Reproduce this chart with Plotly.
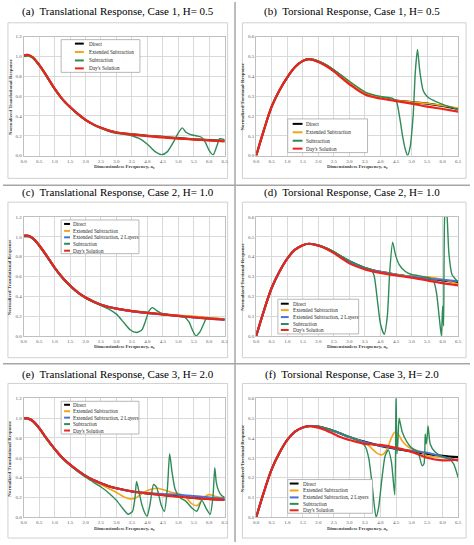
import plotly.graph_objects as go

W, H = 474, 545

# ---------------- data ----------------
FREQ_TICKS = [0.0, 0.5, 1.0, 1.5, 2.0, 2.5, 3.0, 3.5, 4.0, 4.5, 5.0, 5.5, 6.0, 6.5]
TRANS_TICKS = [0.0, 0.2, 0.4, 0.6, 0.8, 1.0, 1.2]
TORS_TICKS = [0.0, 0.1, 0.2, 0.3, 0.4, 0.5, 0.6]

NAMES = ["Direct", "Extended Subtraction", "Extended Subtraction, 2 Layers", "Subtraction", "Day's Solution"]

# translational frequency grid
TX = [0, 0.15, 0.3, 0.5, 0.75, 1.0, 1.25, 1.5, 1.75, 2.0, 2.25, 2.5, 2.75, 3.0, 3.5, 4.0, 4.5, 5.0, 5.5, 6.0, 6.5]
# torsional frequency grid
RX = [0, 0.25, 0.5, 0.75, 1.0, 1.25, 1.5, 1.7, 2.0, 2.25, 2.5, 2.75, 3.0, 3.5, 4.0, 4.5, 5.0, 5.5, 6.0, 6.5]

# (a) Translational, Case 1
a_direct = [1.01, 1.015, 0.99, 0.915, 0.80, 0.675, 0.57, 0.49, 0.42, 0.36, 0.315, 0.28, 0.252, 0.233, 0.215, 0.200, 0.188, 0.176, 0.165, 0.156, 0.148]
a_ext = [1.01, 1.015, 0.99, 0.915, 0.80, 0.675, 0.57, 0.49, 0.42, 0.36, 0.315, 0.28, 0.252, 0.233, 0.215, 0.200, 0.187, 0.175, 0.164, 0.155, 0.150]
a_days = [1.01, 1.015, 0.99, 0.915, 0.80, 0.675, 0.57, 0.49, 0.42, 0.36, 0.315, 0.28, 0.252, 0.233, 0.212, 0.197, 0.183, 0.172, 0.162, 0.152, 0.143]
a_sub_x = [0, 0.15, 0.3, 0.5, 0.75, 1.0, 1.25, 1.5, 1.75, 2.0, 2.25, 2.5, 2.75, 3.0, 3.25, 3.5, 3.75, 4.0, 4.25, 4.47, 4.65, 4.85, 5.0, 5.13, 5.25, 5.4, 5.6, 5.75, 5.88, 6.0, 6.13, 6.25, 6.34, 6.5]
a_sub = [1.0, 1.005, 0.98, 0.905, 0.79, 0.668, 0.565, 0.486, 0.416, 0.357, 0.31, 0.275, 0.245, 0.225, 0.215, 0.2, 0.17, 0.115, 0.04, 0.01, 0.04, 0.14, 0.23, 0.28, 0.235, 0.212, 0.198, 0.185, 0.13, 0.05, 0.008, 0.1, 0.17, 0.16]

# (b) Torsional, Case 1
b_direct = [0, 0.13, 0.248, 0.33, 0.395, 0.447, 0.478, 0.487, 0.475, 0.456, 0.43, 0.40, 0.368, 0.315, 0.293, 0.278, 0.27, 0.262, 0.25, 0.235]
b_ext = [0, 0.13, 0.248, 0.33, 0.395, 0.447, 0.478, 0.487, 0.475, 0.456, 0.43, 0.40, 0.368, 0.315, 0.293, 0.278, 0.27, 0.263, 0.252, 0.24]
b_days = [0, 0.13, 0.248, 0.33, 0.395, 0.447, 0.478, 0.487, 0.472, 0.452, 0.425, 0.392, 0.36, 0.308, 0.288, 0.275, 0.262, 0.247, 0.235, 0.222]
b_sub_x = [0, 0.25, 0.5, 0.75, 1.0, 1.25, 1.5, 1.7, 2.0, 2.25, 2.5, 2.75, 3.0, 3.5, 4.0, 4.4, 4.52, 4.62, 4.72, 4.8, 4.87, 4.95, 5.05, 5.12, 5.19, 5.27, 5.37, 5.5, 5.7, 6.0, 6.5]
b_sub = [0, 0.13, 0.248, 0.33, 0.395, 0.447, 0.478, 0.487, 0.477, 0.458, 0.432, 0.405, 0.375, 0.322, 0.298, 0.288, 0.27, 0.19, 0.09, 0.03, 0.0, 0.04, 0.2, 0.42, 0.535, 0.42, 0.33, 0.298, 0.278, 0.258, 0.232]

# (c) Translational, Case 2
c_direct = [1.01, 1.01, 0.985, 0.915, 0.805, 0.69, 0.59, 0.508, 0.44, 0.387, 0.347, 0.315, 0.292, 0.275, 0.25, 0.232, 0.218, 0.203, 0.19, 0.178, 0.168]
c_ext = [1.01, 1.01, 0.985, 0.915, 0.805, 0.69, 0.59, 0.508, 0.44, 0.387, 0.347, 0.315, 0.292, 0.275, 0.25, 0.232, 0.22, 0.207, 0.197, 0.183, 0.17]
c_ext2 = [1.01, 1.01, 0.985, 0.915, 0.805, 0.69, 0.59, 0.508, 0.44, 0.387, 0.347, 0.315, 0.292, 0.275, 0.25, 0.231, 0.216, 0.2, 0.186, 0.173, 0.162]
c_days = [1.01, 1.01, 0.985, 0.915, 0.805, 0.69, 0.59, 0.508, 0.44, 0.387, 0.347, 0.315, 0.292, 0.275, 0.25, 0.232, 0.217, 0.202, 0.188, 0.175, 0.163]
c_sub_x = [0, 0.15, 0.3, 0.5, 0.75, 1.0, 1.25, 1.5, 1.75, 2.0, 2.25, 2.5, 2.75, 3.0, 3.25, 3.45, 3.65, 3.82, 3.95, 4.05, 4.17, 4.3, 4.45, 4.7, 5.0, 5.2, 5.35, 5.47, 5.57, 5.7, 5.82, 5.92, 6.0, 6.25, 6.5]
c_sub = [1.0, 1.0, 0.975, 0.905, 0.795, 0.68, 0.582, 0.5, 0.433, 0.38, 0.34, 0.305, 0.27, 0.22, 0.13, 0.06, 0.035, 0.06, 0.16, 0.25, 0.285, 0.255, 0.23, 0.215, 0.2, 0.19, 0.14, 0.05, 0.0, 0.04, 0.12, 0.185, 0.178, 0.17, 0.163]

# (d) Torsional, Case 2
d_direct = [0, 0.128, 0.243, 0.325, 0.39, 0.435, 0.458, 0.465, 0.457, 0.442, 0.422, 0.398, 0.375, 0.343, 0.323, 0.31, 0.298, 0.29, 0.28, 0.27]
d_ext = [0, 0.128, 0.243, 0.325, 0.39, 0.435, 0.458, 0.465, 0.457, 0.442, 0.422, 0.398, 0.375, 0.343, 0.323, 0.31, 0.3, 0.298, 0.285, 0.262]
d_ext2 = [0, 0.128, 0.243, 0.325, 0.39, 0.435, 0.458, 0.465, 0.457, 0.442, 0.422, 0.398, 0.375, 0.343, 0.322, 0.308, 0.298, 0.29, 0.283, 0.276]
d_days = [0, 0.128, 0.243, 0.325, 0.39, 0.435, 0.458, 0.465, 0.455, 0.44, 0.418, 0.392, 0.366, 0.336, 0.318, 0.305, 0.294, 0.28, 0.266, 0.255]
d_sub_x = [0, 0.25, 0.5, 0.75, 1.0, 1.25, 1.5, 1.7, 2.0, 2.25, 2.5, 2.75, 3.0, 3.5, 3.7, 3.8, 3.9, 4.0, 4.12, 4.22, 4.3, 4.39, 4.48, 4.6, 4.8, 5.0, 5.5, 5.7, 5.8, 5.9, 5.96, 6.0, 6.03, 6.07, 6.12, 6.2, 6.3, 6.5]
d_sub = [0, 0.128, 0.243, 0.325, 0.39, 0.435, 0.458, 0.465, 0.458, 0.444, 0.425, 0.402, 0.38, 0.345, 0.335, 0.3, 0.18, 0.06, 0.008, 0.1, 0.33, 0.473, 0.41, 0.36, 0.325, 0.31, 0.296, 0.28, 0.22, 0.08, 0.0, 0.15, 0.05, 0.62, 0.66, 0.42, 0.31, 0.272]

# (e) Translational, Case 3
e_direct = [1.0, 0.995, 0.97, 0.9, 0.79, 0.69, 0.6, 0.53, 0.47, 0.417, 0.375, 0.342, 0.313, 0.292, 0.26, 0.24, 0.225, 0.21, 0.196, 0.186, 0.178]
e_ext2 = [1.0, 0.995, 0.97, 0.9, 0.79, 0.69, 0.6, 0.53, 0.47, 0.417, 0.375, 0.342, 0.313, 0.292, 0.26, 0.245, 0.235, 0.228, 0.215, 0.2, 0.188]
e_days = [1.0, 0.995, 0.97, 0.9, 0.79, 0.69, 0.6, 0.53, 0.47, 0.417, 0.375, 0.342, 0.313, 0.292, 0.262, 0.24, 0.222, 0.207, 0.194, 0.183, 0.175]
e_ext_x = [0, 0.15, 0.3, 0.5, 0.75, 1.0, 1.25, 1.5, 1.75, 2.0, 2.25, 2.5, 2.75, 3.0, 3.25, 3.45, 3.65, 3.85, 4.05, 4.3, 4.55, 4.8, 5.05, 5.25, 5.42, 5.6, 5.8, 6.0, 6.2, 6.5]
e_ext = [1.0, 0.995, 0.97, 0.9, 0.79, 0.69, 0.6, 0.53, 0.47, 0.415, 0.37, 0.33, 0.29, 0.25, 0.205, 0.185, 0.2, 0.245, 0.275, 0.293, 0.275, 0.25, 0.235, 0.2, 0.14, 0.117, 0.19, 0.228, 0.21, 0.195]
e_sub_x = [0, 0.15, 0.3, 0.5, 0.75, 1.0, 1.25, 1.5, 1.75, 2.0, 2.25, 2.5, 2.75, 3.0, 3.2, 3.38, 3.52, 3.6, 3.65, 3.72, 3.82, 3.92, 3.99, 4.08, 4.2, 4.3, 4.45, 4.55, 4.65, 4.72, 4.8, 4.9, 5.05, 5.25, 5.45, 5.6, 5.76, 5.9, 6.03, 6.12, 6.18, 6.23, 6.3, 6.4, 6.5]
e_sub = [1.0, 0.99, 0.965, 0.893, 0.782, 0.682, 0.592, 0.522, 0.46, 0.405, 0.355, 0.305, 0.245, 0.17, 0.09, 0.03, 0.06, 0.2, 0.36, 0.27, 0.13, 0.04, 0.01, 0.12, 0.33, 0.3, 0.12, 0.06, 0.3, 0.64, 0.45, 0.28, 0.2, 0.16, 0.09, 0.06, 0.17, 0.09, 0.03, 0.2, 0.5, 0.35, 0.27, 0.22, 0.2]

# (f) Torsional, Case 3
f_direct = [0, 0.128, 0.243, 0.325, 0.39, 0.432, 0.453, 0.46, 0.457, 0.447, 0.435, 0.42, 0.405, 0.38, 0.36, 0.345, 0.332, 0.32, 0.31, 0.303]
f_ext2 = [0, 0.128, 0.243, 0.325, 0.39, 0.432, 0.453, 0.46, 0.457, 0.447, 0.435, 0.42, 0.405, 0.378, 0.36, 0.347, 0.335, 0.325, 0.305, 0.285]
f_days = [0, 0.128, 0.243, 0.325, 0.39, 0.432, 0.453, 0.46, 0.452, 0.438, 0.42, 0.402, 0.39, 0.37, 0.365, 0.35, 0.33, 0.30, 0.287, 0.29]
f_ext_x = [0, 0.25, 0.5, 0.75, 1.0, 1.25, 1.5, 1.7, 2.0, 2.25, 2.5, 2.75, 3.0, 3.5, 3.7, 3.9, 4.05, 4.2, 4.35, 4.47, 4.57, 4.7, 4.85, 5.0, 5.3, 5.5, 6.0, 6.5]
f_ext = [0, 0.128, 0.243, 0.325, 0.39, 0.432, 0.453, 0.46, 0.457, 0.447, 0.435, 0.42, 0.405, 0.375, 0.35, 0.322, 0.315, 0.34, 0.40, 0.43, 0.42, 0.385, 0.36, 0.345, 0.33, 0.31, 0.302, 0.29]
f_sub_x = [0, 0.25, 0.5, 0.75, 1.0, 1.25, 1.5, 1.7, 2.0, 2.25, 2.5, 2.75, 3.0, 3.3, 3.5, 3.62, 3.72, 3.8, 3.86, 3.94, 4.05, 4.15, 4.25, 4.35, 4.46, 4.5, 4.53, 4.56, 4.6, 4.7, 4.85, 5.0, 5.2, 5.34, 5.4, 5.44, 5.47, 5.5, 5.53, 5.6, 5.75, 6.0, 6.2, 6.35, 6.5]
f_sub = [0, 0.128, 0.243, 0.325, 0.39, 0.432, 0.453, 0.46, 0.458, 0.449, 0.437, 0.422, 0.405, 0.385, 0.36, 0.3, 0.18, 0.06, 0.0, 0.05, 0.2, 0.31, 0.34, 0.28, 0.113, 0.63, 0.32, 0.38, 0.5, 0.43, 0.38, 0.35, 0.33, 0.26, 0.27, 0.42, 0.37, 0.4, 0.46, 0.37, 0.33, 0.305, 0.295, 0.27, 0.2]

# ---------------- styling ----------------
COLORS = {"Direct": "#000000", "Extended Subtraction": "#F5A31A",
          "Extended Subtraction, 2 Layers": "#4A72D0", "Subtraction": "#2E8B57",
          "Day's Solution": "#E8241C"}
WIDTHS = {"Direct": 2.2, "Extended Subtraction": 1.6,
          "Extended Subtraction, 2 Layers": 2.0, "Subtraction": 1.4,
          "Day's Solution": 2.2}
SERIF = "Times New Roman"


def xp(px):
    return px / W


def yp(py):
    return 1 - py / H


panels = [
    dict(title="(a)\u00a0 Translational Response, Case 1, H= 0.5", tx=117, ty=10,
         px=(21, 225), py=(35, 155), yr=1.2, yt=TRANS_TICKS, ylab="Normalized Translational Response",
         frame=(5, 21, 228, 178),
         series=[("Direct", TX, a_direct), ("Extended Subtraction", TX, a_ext),
                 ("Subtraction", a_sub_x, a_sub), ("Day's Solution", TX, a_days)],
         leg=dict(box=(59, 38, 139, 71), sx=(73, 82), tx=85, ys=[42, 50.5, 59, 67])),
    dict(title="(b)\u00a0 Torsional Response, Case 1, H= 0.5", tx=354, ty=10,
         px=(257, 462), py=(35, 155), yr=0.6, yt=TORS_TICKS, ylab="Normalized Torsional Response",
         frame=(243, 21, 470, 178),
         series=[("Direct", RX, b_direct), ("Extended Subtraction", RX, b_ext),
                 ("Subtraction", b_sub_x, b_sub), ("Day's Solution", RX, b_days)],
         leg=dict(box=(289, 118, 370, 152), sx=(294, 304), tx=306, ys=[123, 131.5, 140, 148])),
    dict(title="(c)\u00a0 Translational Response, Case 2, H= 1.0", tx=117, ty=192,
         px=(21, 225), py=(217, 337), yr=1.2, yt=TRANS_TICKS, ylab="Normalized Translational Response",
         frame=(5, 202, 228, 359),
         series=[("Direct", TX, c_direct), ("Extended Subtraction", TX, c_ext),
                 ("Extended Subtraction, 2 Layers", TX, c_ext2),
                 ("Subtraction", c_sub_x, c_sub), ("Day's Solution", TX, c_days)],
         leg=dict(box=(59, 220, 138, 254), sx=(62, 68), tx=69, ys=[224, 231, 237.5, 244, 251])),
    dict(title="(d)\u00a0 Torsional Response, Case 2, H= 1.0", tx=354, ty=192,
         px=(257, 462), py=(217, 337), yr=0.6, yt=TORS_TICKS, ylab="Normalized Torsional Response",
         frame=(243, 202, 470, 359),
         series=[("Direct", RX, d_direct), ("Extended Subtraction", RX, d_ext),
                 ("Extended Subtraction, 2 Layers", RX, d_ext2),
                 ("Subtraction", d_sub_x, d_sub), ("Day's Solution", RX, d_days)],
         leg=dict(box=(279, 300, 361, 335), sx=(282, 290), tx=292, ys=[304.5, 311, 318, 325, 331])),
    dict(title="(e)\u00a0 Translational Response, Case 3, H= 2.0", tx=117, ty=376,
         px=(21, 225), py=(400, 520), yr=1.2, yt=TRANS_TICKS, ylab="Normalized Translational Response",
         frame=(5, 385, 228, 541),
         series=[("Direct", TX, e_direct), ("Extended Subtraction", e_ext_x, e_ext),
                 ("Extended Subtraction, 2 Layers", TX, e_ext2),
                 ("Subtraction", e_sub_x, e_sub), ("Day's Solution", TX, e_days)],
         leg=dict(box=(59, 403, 138, 436), sx=(62, 68), tx=69, ys=[406.5, 413, 419.5, 426, 432.5])),
    dict(title="(f)\u00a0 Torsional Response, Case 3, H= 2.0", tx=354, ty=376,
         px=(257, 462), py=(400, 520), yr=0.6, yt=TORS_TICKS, ylab="Normalized Torsional Response",
         frame=(243, 385, 470, 541),
         series=[("Direct", RX, f_direct), ("Extended Subtraction", f_ext_x, f_ext),
                 ("Extended Subtraction, 2 Layers", RX, f_ext2),
                 ("Subtraction", f_sub_x, f_sub), ("Day's Solution", RX, f_days)],
         leg=dict(box=(289, 482, 375, 516), sx=(291, 300), tx=302, ys=[486, 493, 500, 506.5, 513])),
]

fig = go.Figure()
shapes = []
annotations = []
layout_axes = {}

# table grid lines
for y in (185, 365):
    shapes.append(dict(type="line", xref="paper", yref="paper", x0=0, x1=1, y0=yp(y), y1=yp(y),
                       line=dict(color="#A6A6A6", width=1.5), layer="below"))
shapes.append(dict(type="line", xref="paper", yref="paper", x0=xp(235.5), x1=xp(235.5), y0=0, y1=1,
                   line=dict(color="#A6A6A6", width=1.5), layer="below"))

for i, p in enumerate(panels, start=1):
    xa = "x" if i == 1 else f"x{i}"
    ya = "y" if i == 1 else f"y{i}"
    xkey = "xaxis" if i == 1 else f"xaxis{i}"
    ykey = "yaxis" if i == 1 else f"yaxis{i}"
    for name, xs, ys in p["series"]:
        fig.add_trace(go.Scatter(
            x=xs, y=ys, name=name, mode="lines", xaxis=xa, yaxis=ya, showlegend=False,
            line=dict(color=COLORS[name], width=WIDTHS[name], shape="spline",
                      smoothing=0.6 if name == "Subtraction" else 1.0)))
    layout_axes[xkey] = dict(
        domain=[xp(p["px"][0]), xp(p["px"][1])], anchor=ya, range=[0, 6.5],
        tickvals=FREQ_TICKS, ticktext=[f"{v:.1f}" for v in FREQ_TICKS],
        showgrid=True, gridcolor="#D9D9D9", gridwidth=0.8, zeroline=False,
        showline=True, linecolor="#BFBFBF", linewidth=1, mirror=True, ticks="",
        tickfont=dict(family=SERIF, size=5, color="#595959"))
    layout_axes[ykey] = dict(
        domain=[yp(p["py"][1]), yp(p["py"][0])], anchor=xa, range=[0, p["yr"]],
        tickvals=p["yt"], ticktext=[f"{v:.1f}" for v in p["yt"]],
        showgrid=True, gridcolor="#D9D9D9", gridwidth=0.8, zeroline=False,
        showline=True, linecolor="#BFBFBF", linewidth=1, mirror=True, ticks="",
        tickfont=dict(family=SERIF, size=5, color="#595959"))

    # chart frame
    fx0, fy0, fx1, fy1 = p["frame"]
    shapes.append(dict(type="rect", xref="paper", yref="paper", x0=xp(fx0), x1=xp(fx1),
                       y0=yp(fy1), y1=yp(fy0), line=dict(color="#D0D0D0", width=1),
                       fillcolor="rgba(0,0,0,0)", layer="below"))
    # cell title
    annotations.append(dict(text=p["title"], x=xp(p["tx"]), y=yp(p["ty"]), xref="paper", yref="paper",
                            showarrow=False, xanchor="center", yanchor="middle",
                            font=dict(family=SERIF, size=11, color="#000000")))
    # axis titles
    cx = (p["px"][0] + p["px"][1]) / 2
    annotations.append(dict(text="Dimensionless Frequency, a\u2080", x=xp(cx),
                            y=yp(p["py"][1] + 11), xref="paper", yref="paper", showarrow=False,
                            xanchor="center", yanchor="middle",
                            font=dict(family=SERIF, size=5, color="#404040", weight=700)))
    cy = (p["py"][0] + p["py"][1]) / 2
    annotations.append(dict(text=p["ylab"], x=xp(p["px"][0] - 14), y=yp(cy),
                            xref="paper", yref="paper", showarrow=False, textangle=-90,
                            xanchor="center", yanchor="middle",
                            font=dict(family=SERIF, size=5, color="#404040", weight=700)))
    # legend (box, line samples, labels)
    lg = p["leg"]
    bx0, by0, bx1, by1 = lg["box"]
    shapes.append(dict(type="rect", xref="paper", yref="paper", x0=xp(bx0), x1=xp(bx1),
                       y0=yp(by1), y1=yp(by0), line=dict(color="#A6A6A6", width=0.8),
                       fillcolor="#FFFFFF", layer="above"))
    for (name, _, _), ly in zip(p["series"], lg["ys"]):
        shapes.append(dict(type="line", xref="paper", yref="paper", x0=xp(lg["sx"][0]), x1=xp(lg["sx"][1]),
                           y0=yp(ly), y1=yp(ly), line=dict(color=COLORS[name], width=2), layer="above"))
        annotations.append(dict(text=name, x=xp(lg["tx"]), y=yp(ly), xref="paper", yref="paper",
                                showarrow=False, xanchor="left", yanchor="middle",
                                font=dict(family=SERIF, size=5.2, color="#262626")))

fig.update_layout(
    width=W, height=H, margin=dict(l=0, r=0, t=0, b=0),
    paper_bgcolor="#FFFFFF", plot_bgcolor="#FFFFFF",
    font=dict(family=SERIF),
    showlegend=False, shapes=shapes, annotations=annotations, **layout_axes)

fig.write_html("out.html")
